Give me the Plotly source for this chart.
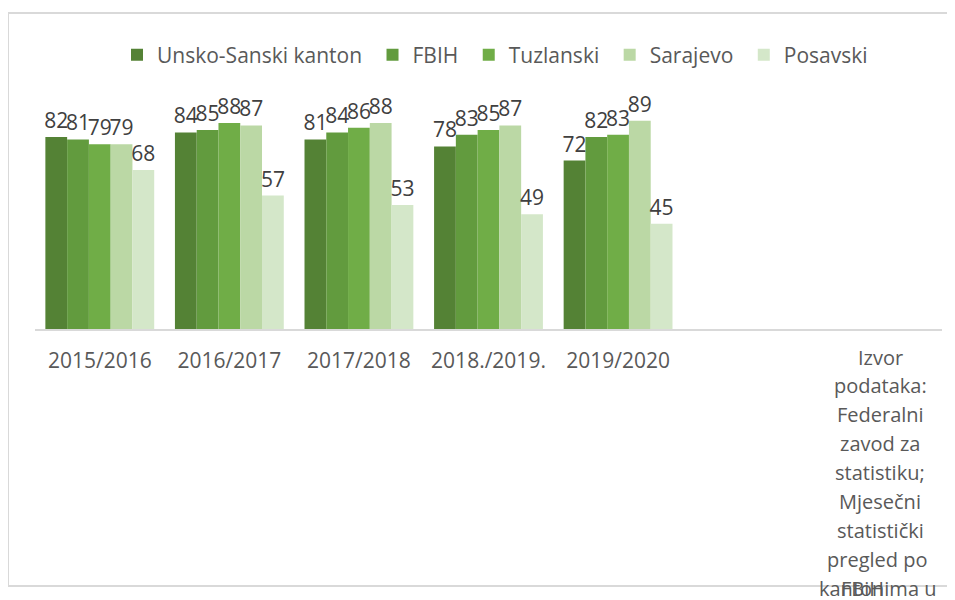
import plotly.graph_objects as go

# school years and per-canton values
years = ["2015/2016", "2016/2017", "2017/2018", "2018./2019.", "2019/2020"]
unsko_sanski = [82, 84, 81, 78, 72]
fbih = [81, 85, 84, 83, 82]
tuzlanski = [79, 88, 86, 85, 83]
sarajevo = [79, 87, 88, 87, 89]
posavski = [68, 57, 53, 49, 45]

series_names = ["Unsko-Sanski kanton", "FBIH", "Tuzlanski", "Sarajevo", "Posavski"]
series_values = [unsko_sanski, fbih, tuzlanski, sarajevo, posavski]
colors = ["#548235", "#629B3E", "#70AD47", "#BBD8A5", "#D4E7C9"]

source_lines = ["Izvor", "podataka:", "Federalni", "zavod za", "statistiku;",
                "Mjesečni", "statistički", "pregled po\u00a0"]
source_last = "kantonima u"
source_overlap = "FBiH"

FONT = "Open Sans"

fig = go.Figure()

for name, vals, col in zip(series_names, series_values, colors):
    # trailing nbsp widens the legend spacing a little, like the Excel legend
    fig.add_trace(go.Bar(x=years, y=vals, name=name + "\u00a0",
                         marker=dict(color=col, line=dict(width=0)),
                         text=vals, textposition="outside",
                         constraintext="none", cliponaxis=False,
                         hovertemplate=name + ": %{y}<extra></extra>",
                         textfont=dict(family=FONT, size=21, color="#404040")))

# plot area in page pixels: x 35..942, y 95..329 (page has an 8px body margin)
def px_x(p):
    return (p - 35) / 907

def px_y(p):
    return (329 - p) / 234

src_font = dict(family=FONT, size=20, color="#595959")
annotations = []
for i, line in enumerate(source_lines):
    annotations.append(dict(text=line, x=px_x(880), y=px_y(357 + i * 28.9),
                            xref="paper", yref="paper", xanchor="center", yanchor="middle",
                            showarrow=False, font=src_font))
# last line overflows the text box, two lines drawn on top of each other
annotations.append(dict(text=source_last, x=px_x(938), y=px_y(357 + 8 * 28.9),
                        xref="paper", yref="paper", xanchor="right", yanchor="middle",
                        showarrow=False, font=src_font))
annotations.append(dict(text=source_overlap, x=px_x(839), y=px_y(357 + 8 * 28.9),
                        xref="paper", yref="paper", xanchor="left", yanchor="middle",
                        showarrow=False, font=src_font))

fig.update_layout(
    width=947, height=592,
    margin=dict(l=27, r=13, t=87, b=271),
    paper_bgcolor="white", plot_bgcolor="white",
    barmode="group", bargap=0.16, bargroupgap=0,
    showlegend=True,
    legend=dict(orientation="h", x=px_x(117), y=px_y(55), xanchor="left", yanchor="middle",
                font=dict(family=FONT, size=21, color="#595959"),
                itemwidth=30, traceorder="normal"),
    xaxis=dict(range=[-0.5, 6.5], showline=True, linecolor="#D9D9D9", linewidth=2,
               showgrid=False, ticks="", ticklabelstandoff=12,
               tickfont=dict(family=FONT, size=21, color="#595959")),
    yaxis=dict(range=[0, 100], visible=False, showgrid=False),
    annotations=annotations,
    shapes=[dict(type="rect", xref="paper", yref="paper",
                 x0=px_x(8), x1=px_x(970), y0=px_y(586), y1=px_y(13),
                 line=dict(color="#D9D9D9", width=2), layer="below")],
)

fig.write_html("out.html")
